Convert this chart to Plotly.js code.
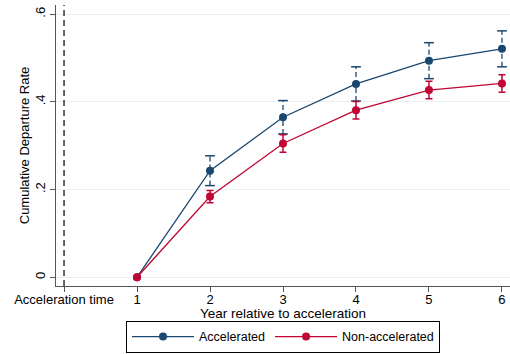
<!DOCTYPE html>
<html>
<head>
<meta charset="utf-8">
<script src="https://cdn.plot.ly/plotly-3.0.1.min.js"></script>
<style>html,body{margin:0;padding:0;background:#fff;}#chart{width:510px;height:354px;}</style>
</head>
<body>
<div id="chart"></div>
<script>
const years = [1, 2, 3, 4, 5, 6];
const accelerated = [0, 0.243, 0.365, 0.441, 0.494, 0.521];
const acceleratedErr = [0, 0.034, 0.038, 0.039, 0.041, 0.041];
const nonAccelerated = [0, 0.184, 0.305, 0.381, 0.427, 0.442];
const nonAcceleratedErr = [0, 0.014, 0.02, 0.02, 0.02, 0.02];
const xTickVals = [0, 1, 2, 3, 4, 5, 6];
const xTickText = ['Acceleration time', '1', '2', '3', '4', '5', '6'];
const yTickVals = [0, 0.2, 0.4, 0.6];
const yTickText = ['0', '.2', '.4', '.6'];

const navy = '#1a476f';
const cran = '#c10534';
const font = 'Liberation Sans, Arial, sans-serif';

// dashed error bars for accelerated
const ex = [], ey = [], capX = [], capY = [];
years.forEach((yr, i) => {
  if (acceleratedErr[i] > 0) {
    const lo = accelerated[i] - acceleratedErr[i], hi = accelerated[i] + acceleratedErr[i];
    ex.push(yr, yr, null); ey.push(lo, hi, null);
    capX.push(yr, yr); capY.push(lo, hi);
  }
});
const nx = [], ny = [], ne = [];
years.forEach((yr, i) => {
  if (nonAcceleratedErr[i] > 0) { nx.push(yr); ny.push(nonAccelerated[i]); ne.push(nonAcceleratedErr[i]); }
});

const traces = [
  {x: ex, y: ey, mode: 'lines', line: {color: navy, width: 1.3, dash: '5px,3px'}, showlegend: false, hoverinfo: 'skip'},
  {x: capX, y: capY, mode: 'markers', marker: {symbol: 'line-ew', size: 7, line: {color: navy, width: 1.5}}, showlegend: false, hoverinfo: 'skip'},
  {x: nx, y: ny, mode: 'markers', marker: {size: 0.1, color: cran, opacity: 0},
   error_y: {type: 'data', array: ne, visible: true, color: cran, thickness: 1.5, width: 3.5}, showlegend: false, hoverinfo: 'skip'},
  {x: years, y: accelerated, name: 'Accelerated', mode: 'lines+markers', line: {color: navy, width: 1.3}, marker: {color: navy, size: 8}},
  {x: years, y: nonAccelerated, name: 'Non-accelerated', mode: 'lines+markers', line: {color: cran, width: 1.3}, marker: {color: cran, size: 8}}
];

const layout = {
  width: 510, height: 354,
  margin: {l: 56, r: 0, t: 5, b: 68, autoexpand: false},
  paper_bgcolor: '#fff', plot_bgcolor: '#fff',
  font: {family: font, size: 13, color: '#000'},
  showlegend: true,
  legend: {orientation: 'h', x: 0.5, xanchor: 'center', yref: 'container', y: 0.003, yanchor: 'bottom',
           bordercolor: '#000', borderwidth: 1, font: {size: 12.5}, itemwidth: 62, tracegroupgap: 0},
  xaxis: {range: [-0.11, 6.11], tickvals: xTickVals, ticktext: xTickText, ticks: 'outside', ticklen: 5,
          tickcolor: '#555', showgrid: false, zeroline: false, showline: true, linecolor: '#555', linewidth: 1.3,
          automargin: false, ticklabelstandoff: -4,
          title: {text: 'Year relative to acceleration', font: {size: 13.5}, standoff: 1}},
  yaxis: {range: [-0.02, 0.621], tickvals: yTickVals, ticktext: yTickText, tickangle: -90, ticks: 'outside', ticklen: 5,
          tickcolor: '#555', showgrid: true, gridcolor: '#e8f0f1', gridwidth: 1, zeroline: false, showline: true,
          linecolor: '#555', linewidth: 1.3, automargin: false,
          title: {text: 'Cumulative Departure Rate', font: {size: 13}, standoff: 0}},
  shapes: [{type: 'line', xref: 'x', yref: 'paper', x0: 0, x1: 0, y0: 0, y1: 1,
            line: {color: '#000', width: 1.2, dash: '6px,4px'}}]
};

Plotly.newPlot('chart', traces, layout, {displayModeBar: false, staticPlot: true});
</script>
</body>
</html>
